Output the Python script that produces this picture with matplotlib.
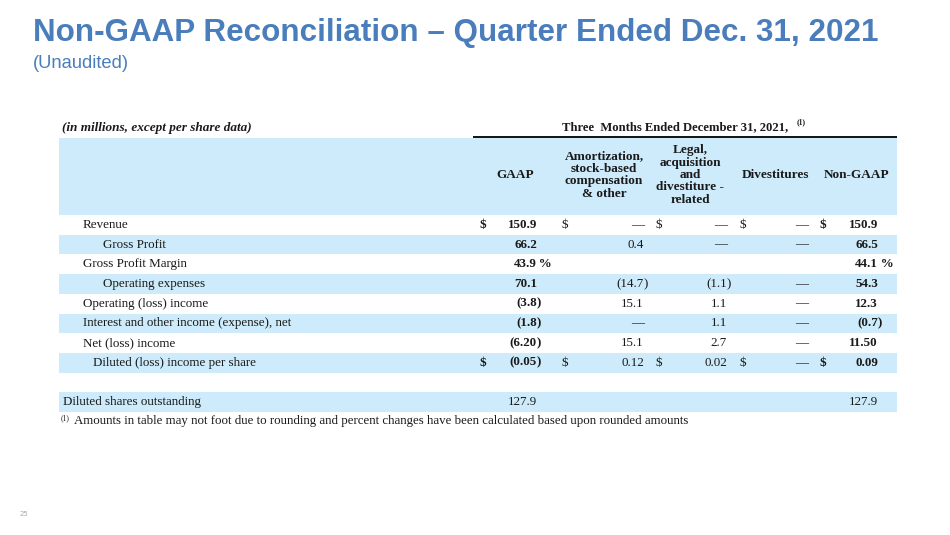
import matplotlib
matplotlib.use("Agg")
import matplotlib.pyplot as plt
from matplotlib.patches import Rectangle

# slide texts
title = "Non-GAAP Reconciliation \u2013 Quarter Ended Dec. 31, 2021"
subtitle = "(Unaudited)"
units_note = "(in millions, except per share data)"
period = "Three  Months Ended December 31, 2021,"
footnote = "Amounts in table may not foot due to rounding and percent changes have been calculated based upon rounded amounts"
page_no = "25"

# table data
columns = ["GAAP",
           "Amortization,\nstock-based\ncompensation\n& other",
           "Legal,\nacquisition\nand\ndivestiture -\nrelated",
           "Divestitures",
           "Non-GAAP"]
rows = ["Revenue", "Gross Profit", "Gross Profit Margin", "Operating expenses",
        "Operating (loss) income", "Interest and other income (expense), net",
        "Net (loss) income", "Diluted (loss) income per share", "",
        "Diluted shares outstanding"]
indent = [1, 2, 1, 2, 1, 1, 1, 1.5, 0, 0]
gaap = ["150.9", "66.2", "43.9 %", "70.1", "(3.8)", "(1.8)", "(6.20)", "(0.05)", "", "127.9"]
amort = ["\u2014", "0.4", "", "(14.7)", "15.1", "\u2014", "15.1", "0.12", "", ""]
legal = ["\u2014", "\u2014", "", "(1.1)", "1.1", "1.1", "2.7", "0.02", "", ""]
divest = ["\u2014", "\u2014", "", "\u2014", "\u2014", "\u2014", "\u2014", "\u2014", "", ""]
nongaap = ["150.9", "66.5", "44.1 %", "54.3", "12.3", "(0.7)", "11.50", "0.09", "", "127.9"]
dollar_rows = ["Revenue", "Diluted (loss) income per share"]
plain_rows = ["Diluted shares outstanding"]

values = [gaap, amort, legal, divest, nongaap]
bold_cols = [True, False, False, False, True]

# layout (pixels)
W, H = 950, 535
blue = "#cdebfa"
title_blue = "#4a7dbb"
ink = "#1a1a1a"
serif = "Liberation Serif"
left, right = 59, 897
head_top, head_bot = 138, 215
row_h = 19.7
label_x0, indent_step = 63, 20
col_right = [537, 644, 727, 808, 878]
col_dollar = [480, 562, 655, 739, 819]
col_center = [515, 604, 690, 775, 857]
fs = 9.4
fs_head = 9.5

fig = plt.figure(figsize=(W / 100, H / 100), dpi=100)
ax = fig.add_axes([0, 0, 1, 1])
ax.set_xlim(0, W)
ax.set_ylim(H, 0)
ax.axis("off")

ax.text(33, 33.5, title, fontsize=22.6, fontweight="bold", color=title_blue,
        family="Liberation Sans", va="center", ha="left")
ax.text(33, 63.5, subtitle, fontsize=13.2, color=title_blue,
        family="Liberation Sans", va="center", ha="left")
ax.text(20, 514, page_no, fontsize=5, color="#aaaaaa", va="center", ha="left")

# top captions
ax.text(62, 128, units_note, fontsize=fs_head, fontweight="bold", style="italic",
        family=serif, color=ink, va="center", ha="left")
ax.text(562, 127, period, fontsize=9.1, fontweight="bold", family=serif,
        color=ink, va="center", ha="left")
ax.text(797, 122, "(1)", fontsize=5.5, fontweight="bold", family=serif,
        color=ink, va="center", ha="left")
ax.plot([473, right], [137, 137], color="#111111", lw=1.4, solid_capstyle="butt")

# header band
ax.add_patch(Rectangle((left, head_top), right - left, head_bot - head_top,
                       facecolor=blue, edgecolor="none"))
for name, cx in zip(columns, col_center):
    ax.text(cx, 175, name, fontsize=fs_head, fontweight="bold", family=serif,
            color=ink, va="center", ha="center", linespacing=1.04)

# body rows
for i, label in enumerate(rows):
    top = head_bot + i * row_h
    cy = top + row_h / 2
    if i % 2 == 1:
        ax.add_patch(Rectangle((left, top), right - left, row_h,
                               facecolor=blue, edgecolor="none"))
    if label:
        ax.text(label_x0 + indent[i] * indent_step, cy, label, fontsize=fs,
                family=serif, color=ink, va="center", ha="left")
    for j, col in enumerate(values):
        v = col[i]
        if label in dollar_rows:
            ax.text(col_dollar[j], cy, "$", fontsize=fs, family=serif, color=ink,
                    fontweight="bold" if bold_cols[j] else "normal",
                    va="center", ha="left")
        if not v:
            continue
        weight = "bold" if bold_cols[j] and label not in plain_rows else "normal"
        # trailing ")" and "%" hang past the column edge
        suffix = ""
        if v.endswith(")"):
            v, suffix = v[:-1], ")"
        elif v.endswith("%"):
            v, suffix = v[:-2], "\u2009%"
        ax.text(col_right[j], cy, v, fontsize=fs, family=serif, color=ink,
                fontweight=weight, va="center", ha="right")
        if suffix:
            ax.text(col_right[j] - 0.5, cy, suffix, fontsize=fs, family=serif,
                    color=ink, fontweight=weight, va="center", ha="left")

# footnote
ax.add_patch(Rectangle((55, 412), 637, 18, facecolor="white", edgecolor="none"))
ax.text(61, 418, "(1)", fontsize=5.5, family=serif, color=ink, va="center", ha="left")
ax.text(74, 421, footnote, fontsize=9.25, family=serif, color=ink,
        va="center", ha="left")

fig.savefig("out.png", dpi=100)
